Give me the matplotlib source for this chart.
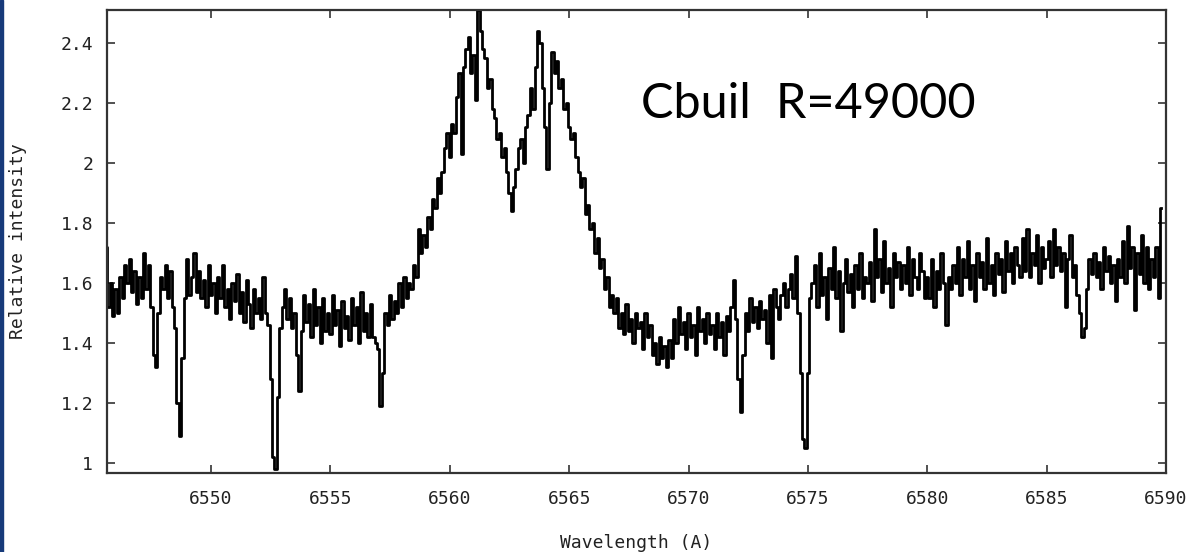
import numpy as np
import matplotlib
matplotlib.use('Agg')
import matplotlib.pyplot as plt
from matplotlib.patches import Rectangle

step = 0.1

start_blue = 6545.6
flux_blue = [
    1.72, 1.52, 1.60, 1.49,                                          # 6545.6
    1.58, 1.50, 1.62, 1.55, 1.66, 1.60, 1.68, 1.57, 1.64, 1.53,      # 6546
    1.62, 1.55, 1.70, 1.58, 1.66, 1.52, 1.36, 1.32, 1.50, 1.62,      # 6547
    1.58, 1.66, 1.55, 1.64, 1.52, 1.45, 1.20, 1.09, 1.35, 1.55,      # 6548
    1.68, 1.56, 1.62, 1.70, 1.57, 1.64, 1.55, 1.61, 1.52, 1.66,      # 6549
    1.56, 1.60, 1.50, 1.62, 1.55, 1.66, 1.52, 1.58, 1.48, 1.60,      # 6550
    1.54, 1.63, 1.50, 1.57, 1.47, 1.61, 1.53, 1.45, 1.58, 1.50,      # 6551
    1.55, 1.48, 1.62, 1.50, 1.46, 1.28, 1.02, 0.98, 1.22, 1.45,      # 6552
    1.52, 1.58, 1.48, 1.55, 1.45, 1.50, 1.36, 1.24, 1.44, 1.56,      # 6553
    1.47, 1.53, 1.42, 1.58, 1.46, 1.52, 1.40, 1.55, 1.44, 1.50,      # 6554
    1.43, 1.56, 1.46, 1.51, 1.39, 1.54, 1.45, 1.49, 1.41, 1.55,      # 6555
    1.46, 1.52, 1.40, 1.57, 1.44, 1.50, 1.42, 1.53, 1.42, 1.40,      # 6556
    1.38, 1.19, 1.30, 1.50, 1.46, 1.56, 1.48, 1.54, 1.50, 1.60,      # 6557
]

start_halpha = 6558.0
flux_halpha = [
    1.52, 1.62, 1.55, 1.60, 1.58, 1.66, 1.62, 1.78, 1.70, 1.76,      # 6558
    1.72, 1.82, 1.78, 1.88, 1.85, 1.95, 1.90, 1.97, 2.05, 2.10,      # 6559
    2.02, 2.13, 2.10, 2.22, 2.30, 2.03, 2.32, 2.38, 2.42, 2.30,      # 6560
    2.36, 2.21, 2.51, 2.44, 2.38, 2.35, 2.25, 2.28, 2.18, 2.15,      # 6561
    2.08, 2.10, 2.02, 2.05, 1.97, 1.90, 1.84, 1.92, 1.98, 2.05,      # 6562
    2.08, 2.00, 2.12, 2.16, 2.25, 2.18, 2.32, 2.44, 2.40, 2.25,      # 6563
    2.12, 1.98, 2.20, 2.37, 2.30, 2.34, 2.25, 2.28, 2.18, 2.20,      # 6564
    2.12, 2.08, 2.10, 2.02, 1.97, 1.92, 1.95, 1.83, 1.86, 1.78,      # 6565
    1.80, 1.70, 1.75, 1.65, 1.68, 1.58, 1.62, 1.52, 1.56, 1.50,      # 6566
    1.55, 1.45, 1.50, 1.43, 1.53, 1.44, 1.48, 1.40, 1.50, 1.45,      # 6567
    1.47, 1.38, 1.50, 1.42, 1.46, 1.36, 1.40, 1.33, 1.42, 1.35,      # 6568
    1.39, 1.32, 1.41, 1.35, 1.48, 1.40, 1.52, 1.43, 1.47, 1.38,      # 6569
]

start_red = 6570.0
flux_red = [
    1.50, 1.42, 1.46, 1.36, 1.52, 1.44, 1.48, 1.40, 1.50, 1.43,      # 6570
    1.46, 1.38, 1.50, 1.42, 1.47, 1.36, 1.49, 1.44, 1.52, 1.61,      # 6571
    1.48, 1.28, 1.17, 1.36, 1.50, 1.44, 1.55, 1.47, 1.52, 1.45,      # 6572
    1.54, 1.48, 1.51, 1.40, 1.56, 1.35, 1.58, 1.52, 1.48, 1.56,      # 6573
    1.60, 1.52, 1.58, 1.63, 1.55, 1.69, 1.50, 1.30, 1.08, 1.05,      # 6574
    1.30, 1.55, 1.60, 1.66, 1.52, 1.70, 1.56, 1.62, 1.48, 1.65,      # 6575
    1.58, 1.72, 1.55, 1.64, 1.44, 1.60, 1.68, 1.57, 1.63, 1.52,      # 6576
    1.66, 1.58, 1.70, 1.55, 1.62, 1.60, 1.67, 1.54, 1.78, 1.62,      # 6577
    1.68, 1.57, 1.74, 1.60, 1.65, 1.52, 1.70, 1.62, 1.67, 1.58,      # 6578
    1.66, 1.60, 1.72, 1.56, 1.68, 1.62, 1.58, 1.70, 1.64, 1.55,      # 6579
    1.62, 1.55, 1.68, 1.52, 1.64, 1.58, 1.70, 1.60, 1.46, 1.62,      # 6580
    1.58, 1.66, 1.60, 1.72, 1.56, 1.68, 1.62, 1.74, 1.58, 1.66,      # 6581
    1.54, 1.70, 1.62, 1.67, 1.58, 1.75, 1.60, 1.66, 1.56, 1.70,      # 6582
    1.63, 1.68, 1.57, 1.74, 1.64, 1.70, 1.60, 1.72, 1.66, 1.62,      # 6583
    1.75, 1.64, 1.78, 1.62, 1.70, 1.66, 1.76, 1.60, 1.72, 1.65,      # 6584
    1.68, 1.74, 1.62, 1.78, 1.66, 1.72, 1.64, 1.70, 1.52, 1.68,      # 6585
    1.76, 1.62, 1.66, 1.56, 1.50, 1.42, 1.45, 1.58, 1.68, 1.63,      # 6586
    1.70, 1.62, 1.67, 1.58, 1.72, 1.64, 1.69, 1.60, 1.66, 1.54,      # 6587
    1.68, 1.62, 1.74, 1.60, 1.79, 1.65, 1.72, 1.51, 1.70, 1.63,      # 6588
    1.76, 1.60, 1.72, 1.58, 1.68, 1.62, 1.72, 1.55, 1.85,            # 6589
]

xticks = [6550, 6555, 6560, 6565, 6570, 6575, 6580, 6585, 6590]
yticks = [1.0, 1.2, 1.4, 1.6, 1.8, 2.0, 2.2, 2.4]
ytick_labels = ['1', '1.2', '1.4', '1.6', '1.8', '2', '2.2', '2.4']

wave, flux = [], []
for start, seg in [(start_blue, flux_blue), (start_halpha, flux_halpha), (start_red, flux_red)]:
    wave.extend(start + step * np.arange(len(seg)))
    flux.extend(seg)

fig = plt.figure(figsize=(11.96, 5.52), dpi=100)
ax = fig.add_axes([107 / 1196, 79 / 552, 1059 / 1196, 463 / 552])

ax.plot(wave, flux, color='black', lw=2.0, drawstyle='steps-mid')

ax.set_xlim(6545.64, 6590)
ax.set_ylim(0.967, 2.51)
ax.set_xticks(xticks)
ax.set_yticks(yticks)
ax.set_yticklabels(ytick_labels)

mono = 'DejaVu Sans Mono'
ax.tick_params(direction='in', length=6, width=1.2, top=True, right=True,
               color='#333333', labelsize=13, labelcolor='#222222')
ax.tick_params(axis='x', pad=12)
ax.tick_params(axis='y', pad=10)
for lab in ax.get_xticklabels() + ax.get_yticklabels():
    lab.set_family(mono)
for sp in ax.spines.values():
    sp.set_color('#333333')
    sp.set_linewidth(1.6)

ax.set_xlabel('Wavelength (A)', family=mono, fontsize=13, color='#222222', labelpad=19)
ax.set_ylabel('Relative intensity', family=mono, fontsize=13, color='#222222', labelpad=24)

ax.text(6568.0, 2.15, 'Cbuil  R=49000', family='Lato', fontweight='normal',
        fontsize=35, color='black', va='baseline')

fig.patches.append(Rectangle((0, 0), 3 / 1196, 1, transform=fig.transFigure,
                             color='#173a7a', zorder=10))

plt.savefig('out.png', dpi=100)
